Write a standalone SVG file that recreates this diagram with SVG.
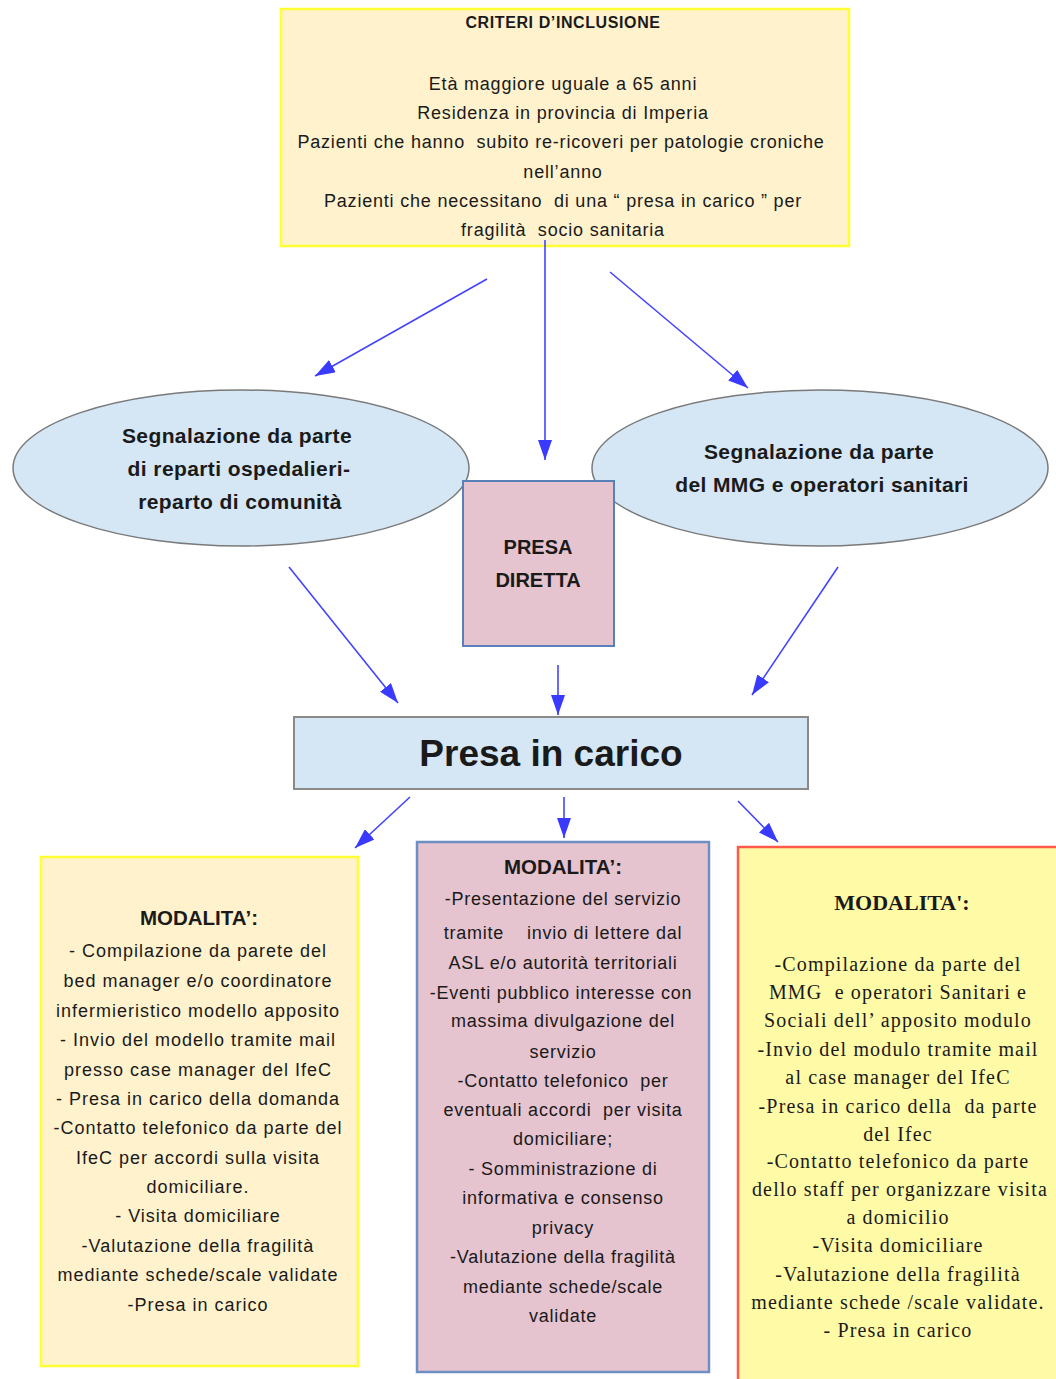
<svg xmlns="http://www.w3.org/2000/svg" width="1056" height="1379" viewBox="0 0 1056 1379">
<defs>
<marker id="ah" viewBox="0 0 20 14" refX="20" refY="7" markerWidth="20" markerHeight="14" markerUnits="userSpaceOnUse" orient="auto">
<path d="M0,0 L20,7 L0,14 Z" fill="#3a3aff"/>
</marker>
<style>
text{white-space:pre}
.sans{font-family:"Liberation Sans",Arial,sans-serif;fill:#1a1a1a;text-anchor:middle}
.serif{font-family:"Liberation Serif","Times New Roman",serif;fill:#1a1a1a;text-anchor:middle}
.t{font-size:18px;letter-spacing:0.8px}
.tl{font-size:18px;letter-spacing:1px}
.tm{font-size:18px;letter-spacing:0.75px}
.ts{font-size:20px;letter-spacing:1.15px}
.e{font-size:21px;font-weight:bold;letter-spacing:0.4px}
.b{font-weight:bold}
.conn line{stroke:#4444ff;stroke-width:1.6;marker-end:url(#ah)}
</style>
</defs>
<rect width="1056" height="1379" fill="#ffffff"/>

<g id="criteri">
<rect x="281" y="9" width="568" height="237" fill="#fff2cc" stroke="#ffff33" stroke-width="2.5"/>
<text class="sans b" x="563" y="28" font-size="16" letter-spacing="0.6">CRITERI D’INCLUSIONE</text>
<text class="sans t" x="563" y="90">Età maggiore uguale a 65 anni</text>
<text class="sans t" x="563" y="119">Residenza in provincia di Imperia</text>
<text class="sans t" x="561" y="148">Pazienti che hanno  subito re-ricoveri per patologie croniche</text>
<text class="sans t" x="563" y="178">nell’anno</text>
<text class="sans t" x="563" y="207">Pazienti che necessitano  di una “ presa in carico ” per</text>
<text class="sans t" x="563" y="236">fragilità  socio sanitaria</text>
</g>

<g id="segnalazione-reparti">
<ellipse cx="241" cy="468" rx="228" ry="78" fill="#d5e6f4" stroke="#7a7a7a" stroke-width="1.5"/>
<text class="sans e" x="237" y="443">Segnalazione da parte</text>
<text class="sans e" x="239" y="476">di reparti ospedalieri-</text>
<text class="sans e" x="240" y="509">reparto di comunità</text>
</g>

<g id="segnalazione-mmg">
<ellipse cx="820" cy="468" rx="228" ry="78" fill="#d5e6f4" stroke="#7a7a7a" stroke-width="1.5"/>
<text class="sans e" x="819" y="459">Segnalazione da parte</text>
<text class="sans e" x="822" y="492">del MMG e operatori sanitari</text>
</g>

<g id="presa-diretta">
<rect x="463" y="481" width="151" height="165" fill="#e5c3cf" stroke="#5b7fb8" stroke-width="2"/>
<text class="sans b" x="538" y="554" font-size="20">PRESA</text>
<text class="sans b" x="538" y="587" font-size="20">DIRETTA</text>
</g>

<g id="presa-in-carico">
<rect x="294" y="717" width="514" height="72" fill="#d5e6f4" stroke="#8a8a8a" stroke-width="2"/>
<text class="sans b" x="551" y="766" font-size="37">Presa in carico</text>
</g>

<g id="modalita-reparti">
<rect x="41" y="857" width="317" height="509" fill="#fff2cc" stroke="#ffff33" stroke-width="2.5"/>
<text class="sans b" x="199" y="925" font-size="20.5">MODALITA’:</text>
<text class="sans tl" x="198" y="957">- Compilazione da parete del</text>
<text class="sans tl" x="198" y="987">bed manager e/o coordinatore</text>
<text class="sans tl" x="198" y="1017">infermieristico modello apposito</text>
<text class="sans tl" x="198" y="1046">- Invio del modello tramite mail</text>
<text class="sans tl" x="198" y="1076">presso case manager del IfeC</text>
<text class="sans tl" x="198" y="1105">- Presa in carico della domanda</text>
<text class="sans tl" x="198" y="1134">-Contatto telefonico da parte del</text>
<text class="sans tl" x="198" y="1164">IfeC per accordi sulla visita</text>
<text class="sans tl" x="198" y="1193">domiciliare.</text>
<text class="sans tl" x="198" y="1222">- Visita domiciliare</text>
<text class="sans tl" x="198" y="1252">-Valutazione della fragilità</text>
<text class="sans tl" x="198" y="1281">mediante schede/scale validate</text>
<text class="sans tl" x="198" y="1311">-Presa in carico</text>
</g>

<g id="modalita-diretta">
<rect x="417" y="842" width="292" height="530" fill="#e5c3cf" stroke="#6d8fc4" stroke-width="2.5"/>
<text class="sans b" x="563" y="874" font-size="20.5">MODALITA’:</text>
<text class="sans tm" x="563" y="905">-Presentazione del servizio</text>
<text class="sans tm" x="563" y="939">tramite    invio di lettere dal</text>
<text class="sans tm" x="563" y="969">ASL e/o autorità territoriali</text>
<text class="sans tm" x="561" y="999">-Eventi pubblico interesse con</text>
<text class="sans tm" x="563" y="1027">massima divulgazione del</text>
<text class="sans tm" x="563" y="1058">servizio</text>
<text class="sans tm" x="563" y="1087">-Contatto telefonico  per</text>
<text class="sans tm" x="563" y="1116">eventuali accordi  per visita</text>
<text class="sans tm" x="563" y="1145">domiciliare;</text>
<text class="sans tm" x="563" y="1175">- Somministrazione di</text>
<text class="sans tm" x="563" y="1204">informativa e consenso</text>
<text class="sans tm" x="563" y="1234">privacy</text>
<text class="sans tm" x="563" y="1263">-Valutazione della fragilità</text>
<text class="sans tm" x="563" y="1293">mediante schede/scale</text>
<text class="sans tm" x="563" y="1322">validate</text>
</g>

<g id="modalita-mmg">
<rect x="738" y="847" width="330" height="540" fill="#fffaa6" stroke="#ff5a4a" stroke-width="2.5"/>
<text class="serif b" x="902" y="910" font-size="22">MODALITA':</text>
<text class="serif ts" x="898" y="971">-Compilazione da parte del</text>
<text class="serif ts" x="898" y="999">MMG  e operatori Sanitari e</text>
<text class="serif ts" x="898" y="1027">Sociali dell’ apposito modulo</text>
<text class="serif ts" x="898" y="1056">-Invio del modulo tramite mail</text>
<text class="serif ts" x="898" y="1084">al case manager del IfeC</text>
<text class="serif ts" x="898" y="1113">-Presa in carico della  da parte</text>
<text class="serif ts" x="898" y="1141">del Ifec</text>
<text class="serif ts" x="898" y="1168">-Contatto telefonico da parte</text>
<text class="serif ts" x="900" y="1196">dello staff per organizzare visita</text>
<text class="serif ts" x="898" y="1224">a domicilio</text>
<text class="serif ts" x="898" y="1252">-Visita domiciliare</text>
<text class="serif ts" x="898" y="1281">-Valutazione della fragilità</text>
<text class="serif ts" x="898" y="1309">mediante schede /scale validate.</text>
<text class="serif ts" x="898" y="1337">- Presa in carico</text>
</g>

<g id="connectors" class="conn">
<line x1="487" y1="279" x2="315" y2="376"/>
<line x1="545" y1="240" x2="545" y2="460"/>
<line x1="610" y1="272" x2="748" y2="388"/>
<line x1="289" y1="567" x2="398" y2="703"/>
<line x1="558" y1="665" x2="558" y2="715"/>
<line x1="838" y1="567" x2="752" y2="695"/>
<line x1="410" y1="797" x2="355" y2="848"/>
<line x1="564" y1="797" x2="564" y2="838"/>
<line x1="738" y1="801" x2="778" y2="842"/>
</g>
</svg>
